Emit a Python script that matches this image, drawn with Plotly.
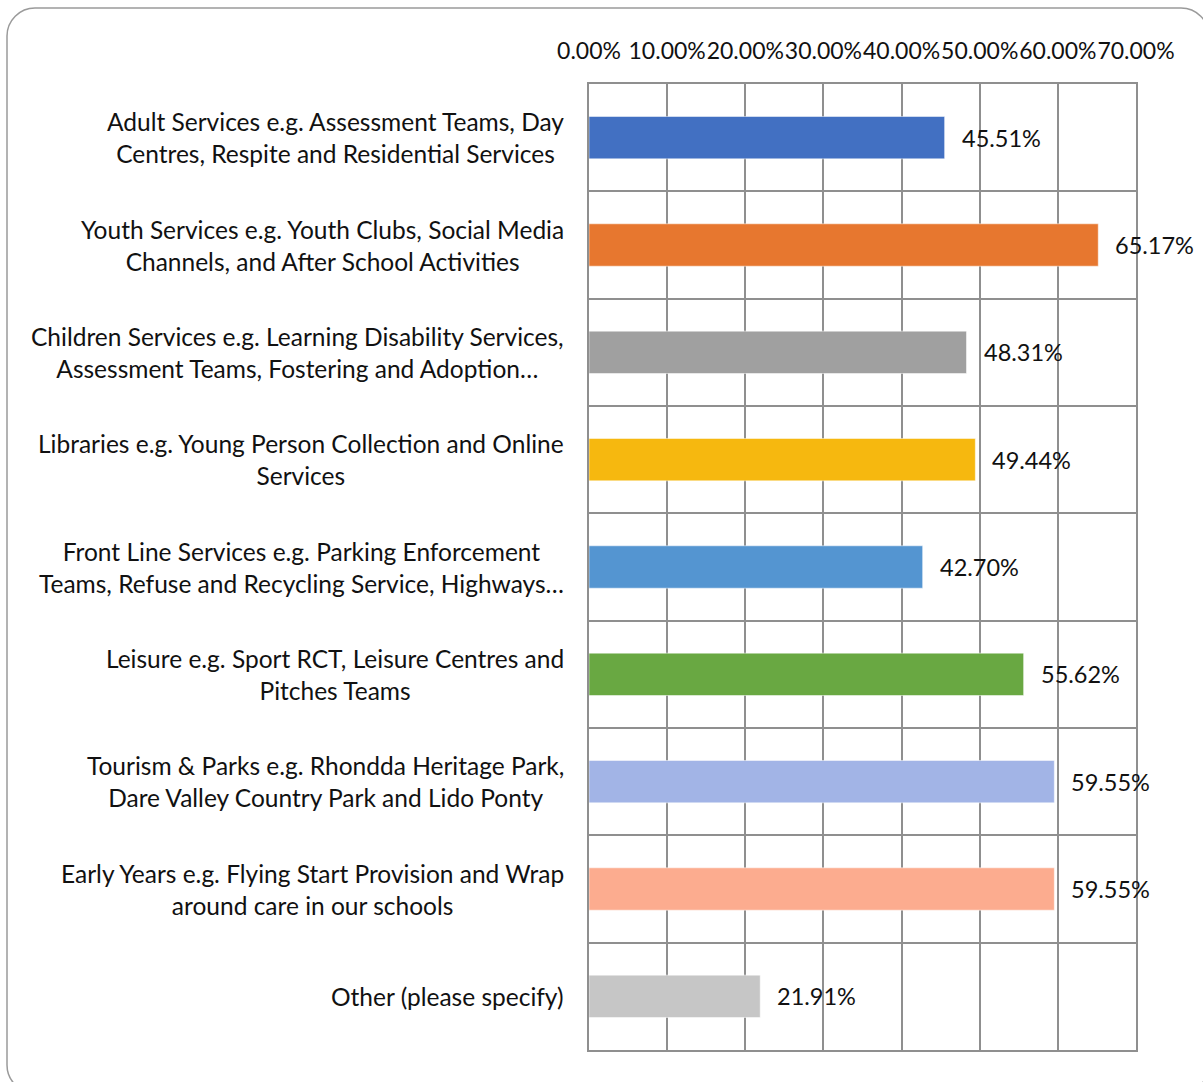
import plotly.graph_objects as go

categories = [
    "Adult Services e.g. Assessment Teams, Day<br>Centres, Respite and Residential Services",
    "Youth Services e.g. Youth Clubs, Social Media<br>Channels, and After School Activities",
    "Children Services e.g. Learning Disability Services,<br>Assessment Teams, Fostering and Adoption…",
    "Libraries e.g. Young Person Collection and Online<br>Services",
    "Front Line Services e.g. Parking Enforcement<br>Teams, Refuse and Recycling Service, Highways…",
    "Leisure e.g. Sport RCT, Leisure Centres and<br>Pitches Teams",
    "Tourism & Parks e.g. Rhondda Heritage Park,<br>Dare Valley Country Park and Lido Ponty",
    "Early Years e.g. Flying Start Provision and Wrap<br>around care in our schools",
    "Other (please specify)",
]
values = [45.51, 65.17, 48.31, 49.44, 42.70, 55.62, 59.55, 59.55, 21.91]
value_labels = ["45.51%", "65.17%", "48.31%", "49.44%", "42.70%", "55.62%", "59.55%", "59.55%", "21.91%"]
tick_values = [0, 10, 20, 30, 40, 50, 60, 70]
tick_labels = ["0.00%", "10.00%", "20.00%", "30.00%", "40.00%", "50.00%", "60.00%", "70.00%"]
colors = ["#4270C2", "#E7772F", "#A0A0A0", "#F6B80F", "#5495D1", "#69A842",
          "#A2B4E6", "#FCAC8F", "#C6C6C6"]

W, H = 1203, 1082
L, R, T, B = 589, 1136, 84, 1050
pw, ph = R - L, B - T

def px(x):
    return (x - L) / pw

def py(y):
    return (B - y) / ph

FONT = "Lato"
positions = list(range(len(categories)))

fig = go.Figure()
fig.add_trace(go.Bar(
    x=values, y=positions, orientation="h",
    marker=dict(color=colors, line=dict(color="rgba(255,255,255,0.5)", width=1)),
    width=0.395, hoverinfo="skip", showlegend=False,
))

annotations = []
for i, (v, lab) in enumerate(zip(values, value_labels)):
    annotations.append(dict(x=v, y=i, xref="x", yref="y", text=lab, showarrow=False,
                            xanchor="left", yanchor="middle", xshift=15,
                            font=dict(family=FONT, size=23.5, color="#111111")))
for i, c in enumerate(categories):
    annotations.append(dict(x=px(566), y=i, xref="paper", yref="y", text=c, showarrow=False,
                            xanchor="right", yanchor="middle", align="center",
                            font=dict(family=FONT, size=24.5, color="#111111")))

# rounded border (partly outside the visible page, as in the reference)
x0, x1 = px(7), px(1209)
y0, y1 = py(1093), py(8)
rx, ry = 28 / pw, 28 / ph
k = 0.45
path = (f"M {x0+rx} {y1} L {x1-rx} {y1} "
        f"C {x1-rx*k} {y1} {x1} {y1-ry*k} {x1} {y1-ry} "
        f"L {x1} {y0+ry} "
        f"C {x1} {y0+ry*k} {x1-rx*k} {y0} {x1-rx} {y0} "
        f"L {x0+rx} {y0} "
        f"C {x0+rx*k} {y0} {x0} {y0+ry*k} {x0} {y0+ry} "
        f"L {x0} {y1-ry} "
        f"C {x0} {y1-ry*k} {x0+rx*k} {y1} {x0+rx} {y1} Z")

fig.update_layout(
    width=W, height=H,
    margin=dict(l=L, r=W - R, t=T, b=H - B, pad=0, autoexpand=False),
    paper_bgcolor="white", plot_bgcolor="white",
    font=dict(family=FONT, size=20, color="#111111"),
    annotations=annotations,
    shapes=[dict(type="path", path=path, xref="paper", yref="paper",
                 line=dict(color="#9a9a9a", width=1.5), fillcolor="rgba(0,0,0,0)", layer="below")],
    xaxis=dict(side="top", range=[0, 70], tickmode="array", tickvals=tick_values, ticktext=tick_labels,
               showgrid=True, gridcolor="#8f8f8f", gridwidth=2, zeroline=False,
               showline=True, linecolor="#8f8f8f", linewidth=2, mirror=True,
               ticks="", ticklabelstandoff=14, tickangle=0, automargin=False,
               tickfont=dict(family=FONT, size=23, color="#111111")),
    yaxis=dict(range=[len(categories) - 0.5, -0.5], tickmode="linear", tick0=-0.5, dtick=1,
               showticklabels=False, showgrid=True, gridcolor="#8f8f8f", gridwidth=2,
               zeroline=False, showline=True, linecolor="#8f8f8f", linewidth=2, mirror=True,
               ticks="", automargin=False),
)

fig.write_html("out.html", config={"displayModeBar": False},
               post_script="document.body.style.margin='0';document.body.style.overflow='hidden';")
